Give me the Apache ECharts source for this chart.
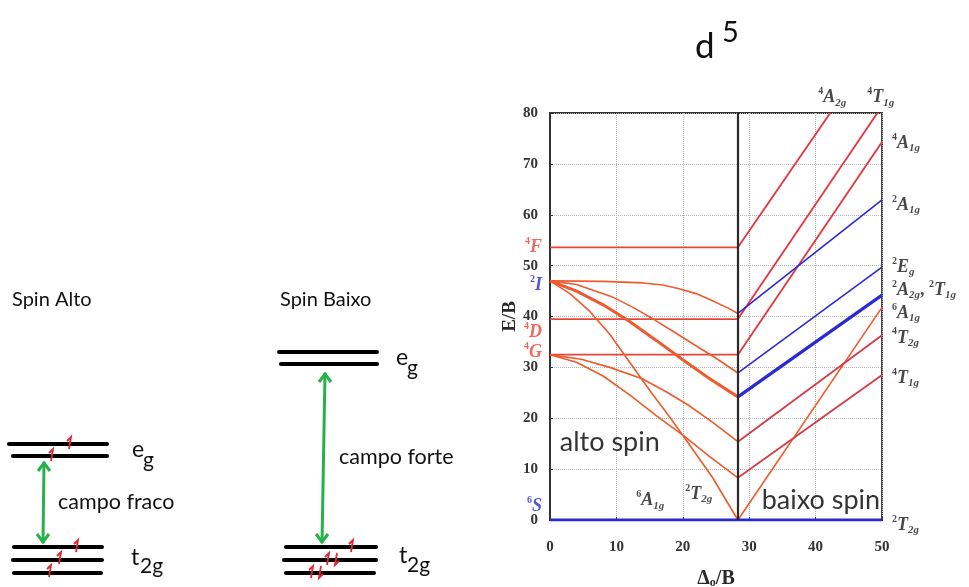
<!DOCTYPE html>
<html><head><meta charset="utf-8">
<script src="https://cdn.jsdelivr.net/npm/echarts@6/dist/echarts.min.js"></script>
<style>html,body{margin:0;padding:0;background:#fff}#c{width:969px;height:587px}</style>
</head><body><div id="c"></div>
<script>
// ---------- data (Tanabe–Sugano d5) ----------
const xRange = [0, 50];
const yRange = [0, 80];
const tickStep = 10;
const crossover = 28.3;

// weak-field (alto spin) side
const f4Level = [[0,53.6],[28.3,53.6]];
const d4Level = [[0,39.5],[28.3,39.5]];
const g4Level = [[0,32.5],[28.3,32.5]];
const i2ToA1 = [[0,47],[8,46.9],[14,46.6],[17,46.2],[19.3,45.5],[22,44.5],[24.3,43.2],[26.9,41.6],[28.3,40.6]];
const i2ToE  = [[0,47],[4,46.3],[9.3,43.9],[12.5,41.8],[15.8,39.3],[19,36.7],[21.8,34.4],[25,31.8],[28.3,28.9]];
const i2ToT1 = [[0,47],[4,45],[8,42.3],[12,39],[16,35.3],[20,31.5],[24,27.8],[28.3,24.2]];
const i2ToT2 = [[0,47],[3,44.5],[6,41],[9,36.5],[12,31],[15,25.5],[18,20.3],[21,14.8],[24.5,8.3],[28.3,0]];
const g4ToT2 = [[0,32.5],[4.7,31.6],[9,30],[13.8,27.8],[17.5,25.2],[20.8,22.6],[24.5,19.2],[28.3,15.4]];
const g4ToT1 = [[0,32.5],[4,31],[8,28.3],[12,24.6],[16,20.5],[20.3,16.4],[24,12.5],[28.3,8.3]];
const groundLine = [[0,0],[50,0]];

// strong-field (baixo spin) side
const rA2g  = [[28.3,53.6],[42.2,80]];
const rT1gHi = [[28.3,39.5],[49.3,80]];
const rA1g4 = [[28.3,32.5],[50,74.3]];
const rA1g6 = [[28.3,0],[50,41.8]];
const rT2g4 = [[28.3,15.4],[50,36.3]];
const rT1g4 = [[28.3,8.3],[50,28.5]];
const bA1g2 = [[28.3,40.6],[50,62.9]];
const bEg2  = [[28.3,28.9],[50,49.7]];
const bT1g2 = [[28.3,24.2],[50,44.2]];

// term labels: [x, y, sup, main, sub]
const leftTerms = [[0,53.6,'4','F',''],[0,46.2,'2','I',''],[0,36.9,'4','D',''],[0,33,'4','G',''],[0,2.6,'6','S','']];
const leftTermColors = ['#ec4335','#2b2bd0','#ec4335','#ec4335','#2b2bd0'];
const rightTerms = [[50,74.1,'4','A','1g'],[50,61.9,'2','A','1g'],[50,49.7,'2','E','g'],[50,45.2,'2','A','2g'],
                    [50,40.7,'6','A','1g'],[50,35.8,'4','T','2g'],[50,27.9,'4','T','1g'],[50,-1,'2','T','2g']];
const topTerms = [[42.5,83.1,'4','A','2g'],[49.8,83.1,'4','T','1g']];
const innerTerms = [[15.1,3.9,'6','A','1g'],[22.4,5.1,'2','T','2g']];
const regionTexts = [[9,15.3,'alto spin'],[40.8,3.9,'baixo spin']];

// ---------- styles ----------
const C_ORANGE = '#ef5a2c', C_RED = '#e5343c', C_CRIMSON = '#d83a45', C_BLUE = '#2a2ad4', C_LEVEL = '#e4463a';
const SERIF = '"Liberation Serif", "DejaVu Serif", serif';
const SANS = 'Lato, "Open Sans", sans-serif';

function lineSeries(data, color, width, z) {
  return { type:'line', data:data, showSymbol:false, symbol:'none', silent:true,
           lineStyle:{color:color, width:width}, z:z||2, animation:false };
}
const termRich = {
  s:{fontSize:10, fontFamily:SERIF, fontWeight:'bold', fontStyle:'normal', lineHeight:11, verticalAlign:'top'},
  m:{fontSize:18, fontFamily:SERIF, fontWeight:'bold', fontStyle:'italic', lineHeight:22},
  b:{fontSize:11, fontFamily:SERIF, fontWeight:'bold', fontStyle:'italic', lineHeight:11, verticalAlign:'bottom'},
  c:{fontSize:18, fontFamily:SERIF, fontWeight:'bold', lineHeight:22}
};
function termText(t){ return '{s|'+t[2]+'}{m|'+t[3]+'}'+(t[4]?'{b|'+t[4]+'}':''); }

const labelItems = [];
leftTerms.forEach((t,i)=>labelItems.push({value:[t[0],t[1]], label:{show:true, position:'left', distance:8,
  formatter:termText(t), color:leftTermColors[i], rich:termRich}}));
rightTerms.forEach((t,i)=>{
  let txt = termText(t);
  if (i===3) txt += '{c|, }{s|2}{m|T}{b|1g}';
  labelItems.push({value:[t[0],t[1]], label:{show:true, position:'right', distance:10, formatter:txt, color:'#1a1a1a', rich:termRich}});
});
topTerms.concat(innerTerms).forEach(t=>labelItems.push({value:[t[0],t[1]], label:{show:true, position:'inside',
  formatter:termText(t), color:'#1a1a1a', rich:termRich}}));
regionTexts.forEach(t=>labelItems.push({value:[t[0],t[1]], label:{show:true, position:'inside', formatter:t[2],
  color:'#000', fontFamily:SANS, fontSize:27, textBorderWidth:0}}));

// ---------- left schematic (energy levels) ----------
const gfx = [];
function bar(x1,x2,y){ gfx.push({type:'line', shape:{x1:x1,y1:y,x2:x2,y2:y}, style:{stroke:'#000', lineWidth:4, lineCap:'round'}, silent:true, z:5}); }
function spin(x,yb,up){
  const pts = up ? [[x-1,yb],[x+1,yb-12],[x-3,yb-8]] : [[x+1,yb-12],[x-1,yb],[x+3,yb-4]];
  gfx.push({type:'polyline', shape:{points:pts}, style:{stroke:'#e8212a', lineWidth:1.8, fill:null}, silent:true, z:6});
}
function gArrow(x1,y1,x2,y2){
  gfx.push({type:'line', shape:{x1:x1,y1:y1,x2:x2,y2:y2}, style:{stroke:'#27b14a', lineWidth:3}, silent:true});
  gfx.push({type:'polyline', shape:{points:[[x1-6,y1+9],[x1,y1+1],[x1+6,y1+9]]}, style:{stroke:'#27b14a', lineWidth:3, fill:null}, silent:true});
  gfx.push({type:'polyline', shape:{points:[[x2-6,y2-9],[x2,y2-1],[x2+6,y2-9]]}, style:{stroke:'#27b14a', lineWidth:3, fill:null}, silent:true});
}
function txt(t,x,y,size,align){ gfx.push({type:'text', silent:true, style:{text:t, x:x, y:y, font:size+'px '+SANS, fill:'#111',
  textAlign:align||'left', textVerticalAlign:'middle'}}); }

// spin alto
bar(9,107,444); bar(13,107,456);
spin(70,449,true); spin(52,461,true);
gArrow(44,462,43,543);
bar(14,102,547); bar(13,102,560); bar(14,101,573);
spin(77,552,true); spin(60,564,true); spin(50,577,true);
txt('Spin Alto',12,300,20); txt('campo fraco',58,502,21.5);
txt('e',132,450,23); txt('g',143,460,21); txt('t',131,558,23); txt('2g',140,566,21);
// spin baixo
bar(279,377,352); bar(281,377,364);
gArrow(325,373,322,543);
bar(286,376,547); bar(284,376,560); bar(286,374,573);
spin(352,552,true); spin(328,565,true); spin(336,565,false); spin(312,578,true); spin(320,578,false);
txt('Spin Baixo',280,300,20); txt('campo forte',339,457,21.5);
txt('e',396,358,23); txt('g',407,368,21); txt('t',399,556,23); txt('2g',407,565,21);
// title
txt('d',695,47,35); txt('5',722,33,29);

const series = [
  lineSeries(f4Level, C_LEVEL, 1.8), lineSeries(d4Level, C_LEVEL, 1.8), lineSeries(g4Level, C_LEVEL, 1.8),
  lineSeries(i2ToA1, C_ORANGE, 1.6), lineSeries(i2ToE, C_ORANGE, 1.6), lineSeries(i2ToT1, C_ORANGE, 3),
  lineSeries(i2ToT2, C_ORANGE, 1.6), lineSeries(g4ToT2, C_ORANGE, 1.6), lineSeries(g4ToT1, C_ORANGE, 1.6),
  lineSeries(rA2g, C_RED, 1.8), lineSeries(rT1gHi, C_RED, 1.8), lineSeries(rA1g4, C_RED, 1.8),
  lineSeries(rA1g6, C_ORANGE, 1.6), lineSeries(rT2g4, C_CRIMSON, 1.8), lineSeries(rT1g4, C_CRIMSON, 1.8),
  lineSeries(bA1g2, C_BLUE, 1.6), lineSeries(bEg2, C_BLUE, 1.6), lineSeries(bT1g2, C_BLUE, 3.2),
  lineSeries(groundLine, C_BLUE, 3, 3),
  { type:'line', data:[], markLine:{silent:true, symbol:'none', label:{show:false}, animation:false,
      lineStyle:{color:'#2a2a2a', width:2.2, type:'solid'}, data:[{xAxis:crossover}]}, z:4 },
  { type:'scatter', data:labelItems, symbolSize:0, clip:false, silent:true, z:10 }
];

const chart = echarts.init(document.getElementById('c'), null, {renderer:'canvas'});
chart.setOption({
  animation:false,
  backgroundColor:'#fff',
  grid:{left:550, right:87, top:113, bottom:67, show:true, borderColor:'#333', borderWidth:1.8, backgroundColor:'transparent',
        containLabel:false, outerBoundsMode:'none'},
  xAxis:{type:'value', min:xRange[0], max:xRange[1], interval:tickStep,
    name:'{d|Δ}{o|o}{d|/B}', nameLocation:'middle', nameGap:49,
    nameTextStyle:{rich:{d:{fontFamily:SERIF, fontWeight:'bold', fontSize:20, color:'#2a2a2a'},
                         o:{fontFamily:SERIF, fontWeight:'bold', fontSize:12, color:'#2a2a2a', verticalAlign:'bottom', lineHeight:10}}},
    axisLine:{lineStyle:{color:'#333', width:2}}, axisTick:{inside:true, length:3, lineStyle:{color:'#333'}},
    axisLabel:{fontFamily:SERIF, fontWeight:'bold', fontSize:15, color:'#333', margin:20},
    splitLine:{show:true, lineStyle:{type:'dotted', color:'#b8b8b8', width:1}}},
  yAxis:{type:'value', min:yRange[0], max:yRange[1], interval:tickStep,
    name:'E/B', nameLocation:'middle', nameGap:30,
    nameTextStyle:{fontFamily:SERIF, fontWeight:'bold', fontSize:19, color:'#2a2a2a'},
    axisLine:{lineStyle:{color:'#333', width:2}}, axisTick:{inside:true, length:3, lineStyle:{color:'#333'}},
    axisLabel:{fontFamily:SERIF, fontWeight:'bold', fontSize:15, color:'#333', margin:12},
    splitLine:{show:true, lineStyle:{type:'dotted', color:'#b8b8b8', width:1}}},
  graphic:gfx,
  series:series
});
</script></body></html>
